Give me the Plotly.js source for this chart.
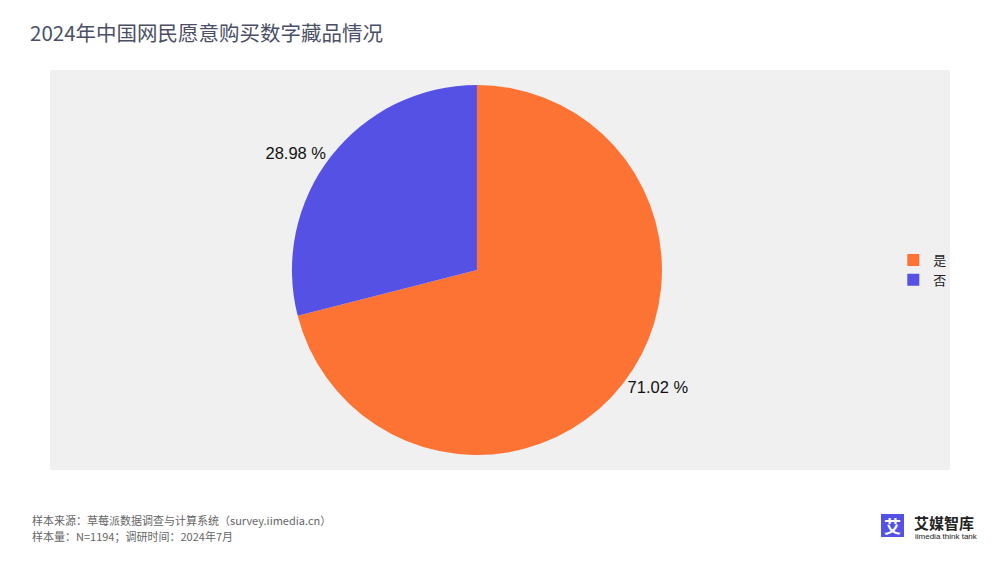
<!DOCTYPE html>
<html><head><meta charset="utf-8">
<script src="https://cdn.plot.ly/plotly-3.0.1.min.js"></script>
<style>html,body{margin:0;padding:0;background:#fff;}#chart{width:1000px;height:563px;}</style>
</head><body><div id="chart"></div>
<script>
const categories = ['是', '否'];
const values = [71.02, 28.98];
const colors = ['#FD7333', '#5651E5'];
const titleText = '2024年中国网民愿意购买数字藏品情况';
const sourceLine1 = '样本来源：草莓派数据调查与计算系统（survey.iimedia.cn）';
const sourceLine2 = '样本量：N=1194；调研时间：2024年7月';

const trace = {
  type: 'pie',
  labels: categories,
  values: values,
  marker: {colors: colors, line: {color: '#ffffff', width: 0}},
  sort: false,
  direction: 'clockwise',
  rotation: 0,
  textposition: 'outside',
  texttemplate: '%{value:.2f} %',
  textfont: {family: 'Liberation Sans, Arial, sans-serif', size: 16.5, color: '#111111'},
  hoverinfo: 'label+value',
  domain: {x: [0.2244, 0.7244], y: [0.0375, 0.9625]},
  showlegend: true
};

const layout = {
  width: 1000, height: 563,
  margin: {l: 50, r: 50, t: 70, b: 93},
  paper_bgcolor: '#ffffff',
  title: {text: titleText, x: 0.03, xanchor: 'left', y: 0.94, yanchor: 'middle',
    font: {family: 'Noto Sans CJK SC, sans-serif', size: 20.5, color: '#4a4f66'}},
  showlegend: true,
  legend: {x: 0.937, xanchor: 'left', y: 0.5, yanchor: 'middle',
    font: {family: 'Noto Sans CJK SC, sans-serif', size: 13, color: '#222'},
    bgcolor: 'rgba(0,0,0,0)', itemwidth: 30, tracegroupgap: 0},
  shapes: [
    {type: 'rect', xref: 'paper', yref: 'paper', x0: 0, x1: 1, y0: 0, y1: 1,
      fillcolor: '#f0f0f0', line: {width: 0}, layer: 'below'},
    {type: 'rect', xref: 'paper', yref: 'paper', x0: 0.9233, x1: 0.9489, y0: -0.1675, y1: -0.1100,
      fillcolor: '#5651E5', line: {width: 0}}
  ],
  annotations: [
    {text: sourceLine1, xref: 'paper', yref: 'paper', x: -0.0222, y: -0.1245, xanchor: 'left', yanchor: 'middle',
      showarrow: false, font: {family: 'Noto Sans CJK SC, sans-serif', size: 11, color: '#666'}},
    {text: sourceLine2, xref: 'paper', yref: 'paper', x: -0.0222, y: -0.1645, xanchor: 'left', yanchor: 'middle',
      showarrow: false, font: {family: 'Noto Sans CJK SC, sans-serif', size: 11, color: '#666'}},
    {text: '<b>艾</b>', xref: 'paper', yref: 'paper', x: 0.9361, y: -0.1385, xanchor: 'center', yanchor: 'middle',
      showarrow: false, font: {family: 'Noto Sans CJK SC, sans-serif', size: 17, color: '#ffffff'}},
    {text: '<b>艾媒智库</b>', xref: 'paper', yref: 'paper', x: 0.9578, y: -0.131, xanchor: 'left', yanchor: 'middle',
      showarrow: false, font: {family: 'Noto Sans CJK SC, sans-serif', size: 15, color: '#222'}},
    {text: 'iimedia think tank', xref: 'paper', yref: 'paper', x: 0.9589, y: -0.166, xanchor: 'left', yanchor: 'middle',
      showarrow: false, font: {family: 'Liberation Sans, sans-serif', size: 8, color: '#222'}}
  ]
};

Plotly.newPlot('chart', [trace], layout, {displayModeBar: false, staticPlot: true});
</script>
</body></html>
